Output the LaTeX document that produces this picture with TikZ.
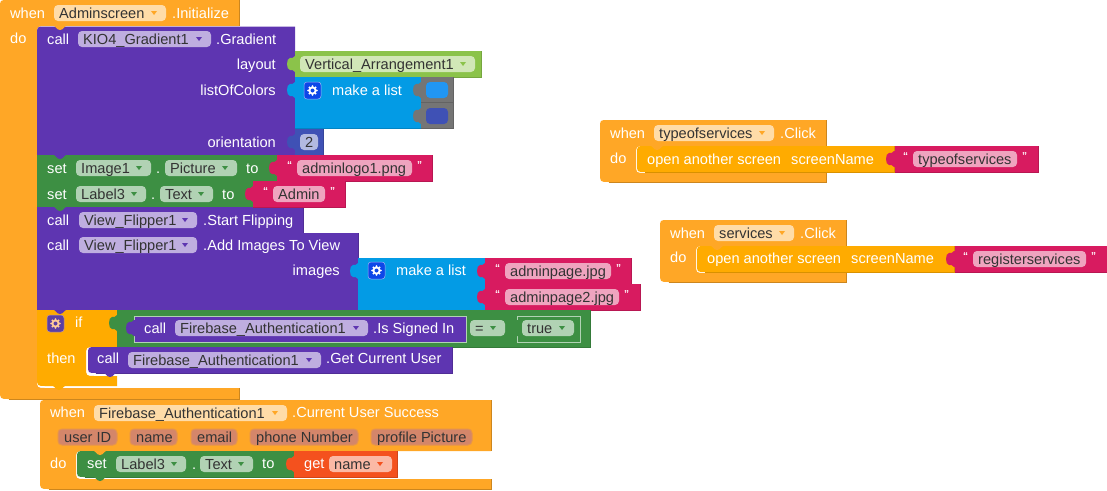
\documentclass[tikz,border=0pt]{standalone}
\usepackage{fontspec}
\setmainfont{Liberation Sans}
\definecolor{whenorange}{HTML}{FFA726}
\definecolor{openorange}{HTML}{FFAB00}
\definecolor{callpurple}{HTML}{5E35B1}
\definecolor{setgreen}{HTML}{3D8F43}
\definecolor{textpink}{HTML}{D81B60}
\definecolor{listblue}{HTML}{039BE5}
\definecolor{oliveb}{HTML}{8BC34A}
\definecolor{numblue}{HTML}{3F51B5}
\definecolor{skyblue}{HTML}{2196F3}
\definecolor{getred}{HTML}{F4511E}
\definecolor{slotgrey}{HTML}{757575}
\definecolor{paramfill}{HTML}{D4866A}
\definecolor{gearblue}{HTML}{0D47E8}
\definecolor{gearpurple}{HTML}{5C3FA3}
\newcommand{\blockfont}{\fontsize{14.6}{16}\selectfont}
\tikzset{
    lbl/.style={text=white,inner sep=0pt,anchor=base west,font=\blockfont},
    lblr/.style={lbl,anchor=base east},
    fldbox/.style={inner sep=0pt,minimum height=16pt,rounded corners=4pt},
    fldtext/.style={text=black!80,inner sep=0pt,anchor=base west,font=\blockfont},
    quot/.style={text=white,inner sep=0pt,anchor=base west,font=\fontsize{10}{10}\selectfont\bfseries},
}
% #1 left, #2 right, #3 top, #4 header bottom, #5 inner left, #6 bar top, #7 bottom
\newcommand{\hatblk}[7]{
    \fill[whenorange] (#1+8,#3) .. controls (#1,#3) .. (#1,#3+8) -- (#1,#7-9) .. controls (#1,#7) .. (#1+9,#7)
        -- (#2,#7) -- (#2,#6) -- (#5+9,#6) .. controls (#5,#6) .. (#5,#6-9) -- (#5,#4+9)
        .. controls (#5,#4) .. (#5+9,#4) -- (#2,#4) -- (#2,#3) -- cycle;
    \draw[whenorange!80!black,line width=0.4pt] (#2,#3) -- (#2,#4);
    \draw[whenorange!80!black,line width=0.4pt] (#2,#6) -- (#2,#7) -- (#1+9,#7);
}
\newcommand{\blk}[5]{
    \fill[#5] (#1,#2) rectangle (#3,#4);
    \draw[#5!85!black,line width=0.4pt] (#1,#4) -- (#3,#4) -- (#3,#2);
}
\newcommand{\rblk}[5]{
    \fill[#5] (#1+8,#2) .. controls (#1,#2) .. (#1,#2+8) -- (#1,#4-8) .. controls (#1,#4) .. (#1+8,#4)
        -- (#3,#4) -- (#3,#2) -- cycle;
    \draw[#5!85!black,line width=0.4pt] (#1+8,#4) -- (#3,#4) -- (#3,#2);
}
\newcommand{\nub}[3]{
    \fill[#3] (#1-9,#2-1) .. controls (#1-4,#2-1) and (#1-4,#2+4) .. (#1,#2+4)
        .. controls (#1+4,#2+4) and (#1+4,#2-1) .. (#1+9,#2-1) -- cycle;
}
\newcommand{\ptab}[3]{
    \fill[#3] (#1+1,#2-8) -- (#1,#2-8) .. controls (#1-1,#2-6) and (#1-3,#2-6) .. (#1-5,#2-6)
        .. controls (#1-9,#2-6) and (#1-9,#2+6) .. (#1-5,#2+6)
        .. controls (#1-3,#2+6) and (#1-1,#2+6) .. (#1,#2+8) -- (#1+1,#2+8) -- cycle;
}
% #1 name, #2 left, #3 right, #4 middle, #5 hue, #6 text
\newcommand{\fldplain}[6]{
    \node[fldbox,fill=#5!40!white,minimum width={(#3-#2)*1pt}] (#1) at ({(#2+#3)/2},#4) {};
    \node[fldtext] (#1-t) at (#2+5,#4+5) {#6};
}
\newcommand{\fld}[6]{
    \fldplain{#1}{#2}{#3}{#4}{#5}{#6}
    \fill[#5] (#3-15,#4-2) -- (#3-9,#4-2) -- (#3-12,#4+2) -- cycle;
}
% #1 left, #2 top, #3 back, #4 gear
\newcommand{\gearicon}[4]{
    \fill[#3,rounded corners=3pt] (#1,#2) rectangle (#1+17,#2+17);
    \draw[#4!60!#3,rounded corners=3pt,line width=0.5pt] (#1,#2) rectangle (#1+17,#2+17);
    \begin{scope}[shift={(#1+8.5,#2+8.5)}]
        \fill[#4] (0,0) circle (4pt);
        \foreach \a in {0,45,...,315} {
            \fill[#4] (\a:4.3pt) circle (1.1pt);
        }
        \fill[#3] (0,0) circle (2pt);
    \end{scope}
}

\begin{document}
\begin{tikzpicture}[x=1pt,y=-1pt]
    \useasboundingbox (0,0) rectangle (1107,490);

    \hatblk{0}{239}{0}{26}{37}{388}{399}
    \hatblk{40}{491}{400}{451}{76}{479}{489}
    \hatblk{600}{826}{120}{146}{636}{173}{182}
    \hatblk{660}{846}{220}{246}{696}{273}{282}

    % first group
    \fill[callpurple] (45,26.5) .. controls (37,26.5) .. (37,35) -- (37,155) -- (295,155) -- (295,26.5) -- cycle;
    \nub{60}{26}{whenorange}
    \blk{295}{51}{481}{77}{oliveb}
    \ptab{295}{64}{oliveb}
    \blk{295}{77}{421}{128}{listblue}
    \ptab{295}{90}{listblue}
    \foreach \y/\c in {77/skyblue,103/numblue} {
        \blk{421}{\y}{453}{\y+25}{slotgrey}
        \ptab{421}{\y+13}{slotgrey}
        \fill[\c,rounded corners=4pt] (426,\y+5) rectangle (448,\y+21);
    }
    \blk{295}{129}{323}{155}{numblue}
    \ptab{295}{142}{numblue}
    \blk{37}{155}{277}{181}{setgreen}
    \nub{60}{155}{callpurple}
    \blk{37}{181}{253}{207}{setgreen}
    \nub{60}{181}{setgreen}
    \blk{37}{207}{303}{233}{callpurple}
    \nub{60}{207}{setgreen}
    \blk{37}{233}{358}{310}{callpurple}
    \nub{60}{233}{callpurple}
    \blk{358}{258}{485}{310}{listblue}
    \ptab{358}{271}{listblue}

    % text blocks
    \foreach \nm/\xa/\xb/\y/\fa/\fb/\txt in {logo/277/432/155/297/412/adminlogo1.png,
            admin/253/345/181/273/325/Admin,
            page/485/631/258/505/611/adminpage.jpg,
            pageb/485/640/284/505/619/adminpage2.jpg,
            tos/894/1038/146/913/1017/typeofservices,
            reg/954/1107/246/973/1086/registerservices} {
        \blk{\xa}{\y}{\xb}{\y+26}{textpink}
        \ptab{\xa}{\y+13}{textpink}
        \fldplain{\nm}{\fa}{\fb}{\y+13}{textpink}{\txt}
        \node[quot] (\nm-l) at (\fa-10,\y+13) {“};
        \node[quot] (\nm-r) at (\fb+5,\y+13) {”};
    }

    % if block
    \fill[openorange] (37,310) -- (117,310) -- (117,347) -- (95,347) .. controls (86,347) .. (86,356) -- (86,367)
        .. controls (86,376) .. (95,376) -- (117,376) -- (117,386) -- (46,386) .. controls (37,386) .. (37,377) -- cycle;
    \nub{60}{310}{callpurple}
    \nub{59}{386}{openorange}
    \blk{117}{310}{590}{347}{setgreen}
    \ptab{117}{323}{setgreen}
    \blk{134}{316}{466}{342}{callpurple}
    \draw[setgreen!40!white,line width=0.5pt] (134,316) rectangle (466,342);
    \ptab{134}{328}{callpurple}
    \blk{517}{316}{580}{342}{setgreen}
    \draw[setgreen!40!white,line width=0.5pt] (517,316) rectangle (580,342);
    \ptab{517}{328}{setgreen}
    \rblk{88}{347}{452}{373}{callpurple}
    \nub{110}{373}{callpurple}

    % second group
    \rblk{77}{451}{294}{477}{setgreen}
    \nub{100}{477}{setgreen}
    \nub{100}{451}{whenorange}
    \blk{294}{451}{397}{477}{getred}
    \ptab{294}{464}{getred}
    \rblk{637}{146}{894}{172}{openorange}
    \nub{657}{146}{whenorange}
    \ptab{894}{159}{textpink}
    \rblk{697}{246}{954}{272}{openorange}
    \nub{717}{246}{whenorange}
    \ptab{954}{259}{textpink}

    \gearicon{304}{82}{gearblue}{white}
    \gearicon{368}{262}{gearblue}{white}
    \gearicon{47}{315}{gearpurple}{orange!40!white}

    \foreach \nm/\x/\y/\txt in {whenA/10/13/when,initA/172/13/.Initialize,doA/10/38/do,
            callA/47/39/call,gradA/216/39/.Gradient,listA/332/90/make a list,
            setB/47/168/set,dotB/156/168/.,toB/246/168/to,
            setC/47/194/set,dotC/151/194/.,toC/222/194/to,
            callD/47/220/call,flipD/203/220/.Start Flipping,
            callE/47/245/call,addE/203/245/.Add Images To View,listE/396/270/make a list,
            ifF/75/322/if,thenF/47/358/then,callF/144/328/call,signedF/373/328/.Is Signed In,
            callG/97/358/call,userG/326/358/.Get Current User,
            whenH/50/412/when,succH/292/412/.Current User Success,doH/50/463/do,
            setH/87/463/set,dotH/192/464/.,toH/262/463/to,getH/304/463/get,
            whenJ/610/133/when,clickJ/780/133/.Click,doJ/610/158/do,
            openJ/647/159/open another screen,scrJ/791/159/screenName,
            whenK/670/233/when,clickK/800/233/.Click,doK/670/257/do,
            openK/707/258/open another screen,scrK/851/258/screenName} {
        \node[lbl] (\nm) at (\x,\y+5) {\txt};
    }
    \foreach \nm/\x/\y/\txt in {layoutA/276/64/layout,colorsA/276/90/listOfColors,
            orientA/276/142/orientation,imagesE/340/270/images} {
        \node[lblr] (\nm) at (\x,\y+5) {\txt};
    }

    \foreach \nm/\xa/\xb/\y/\c/\txt in {adminf/54/166/13/whenorange/Adminscreen,
            kiof/78/211/39/callpurple/KIO4\_Gradient1,
            vertf/300/475/64/oliveb/Vertical\_Arrangement1,
            imgf/76/151/168/setgreen/Image1,picf/165/237/168/setgreen/Picture,
            labf/76/146/194/setgreen/Label3,textf/160/213/194/setgreen/Text,
            flipf/79/197/220/callpurple/View\_Flipper1,flipg/79/197/245/callpurple/View\_Flipper1,
            fbf/175/368/328/callpurple/Firebase\_Authentication1,
            eqf/470/505/328/setgreen/=,truef/522/574/328/setgreen/true,
            fbg/128/321/360/callpurple/Firebase\_Authentication1,
            fbh/94/287/413/whenorange/Firebase\_Authentication1,
            labh/116/186/464/setgreen/Label3,texth/200/253/464/setgreen/Text,
            nameh/329/392/464/getred/name,
            tosf/654/774/133/whenorange/typeofservices,
            servf/714/794/233/whenorange/services} {
        \fld{\nm}{\xa}{\xb}{\y}{\c}{\txt}
    }
    \fldplain{numf}{300}{318}{142}{numblue}{2}

    \foreach \nm/\xa/\xb/\txt in {userp/58/117/user ID,namep/130/177/name,emailp/191/237/email,
            phonep/250/358/phone Number,profp/371/472/profile Picture} {
        \node[fldbox,fill=paramfill,draw=whenorange!40!paramfill,line width=1pt,minimum width={(\xb-\xa)*1pt}] (\nm) at ({(\xa+\xb)/2},437) {};
        \node[fldtext] (\nm-t) at (\xa+6,442) {\txt};
    }
\end{tikzpicture}
\end{document}
